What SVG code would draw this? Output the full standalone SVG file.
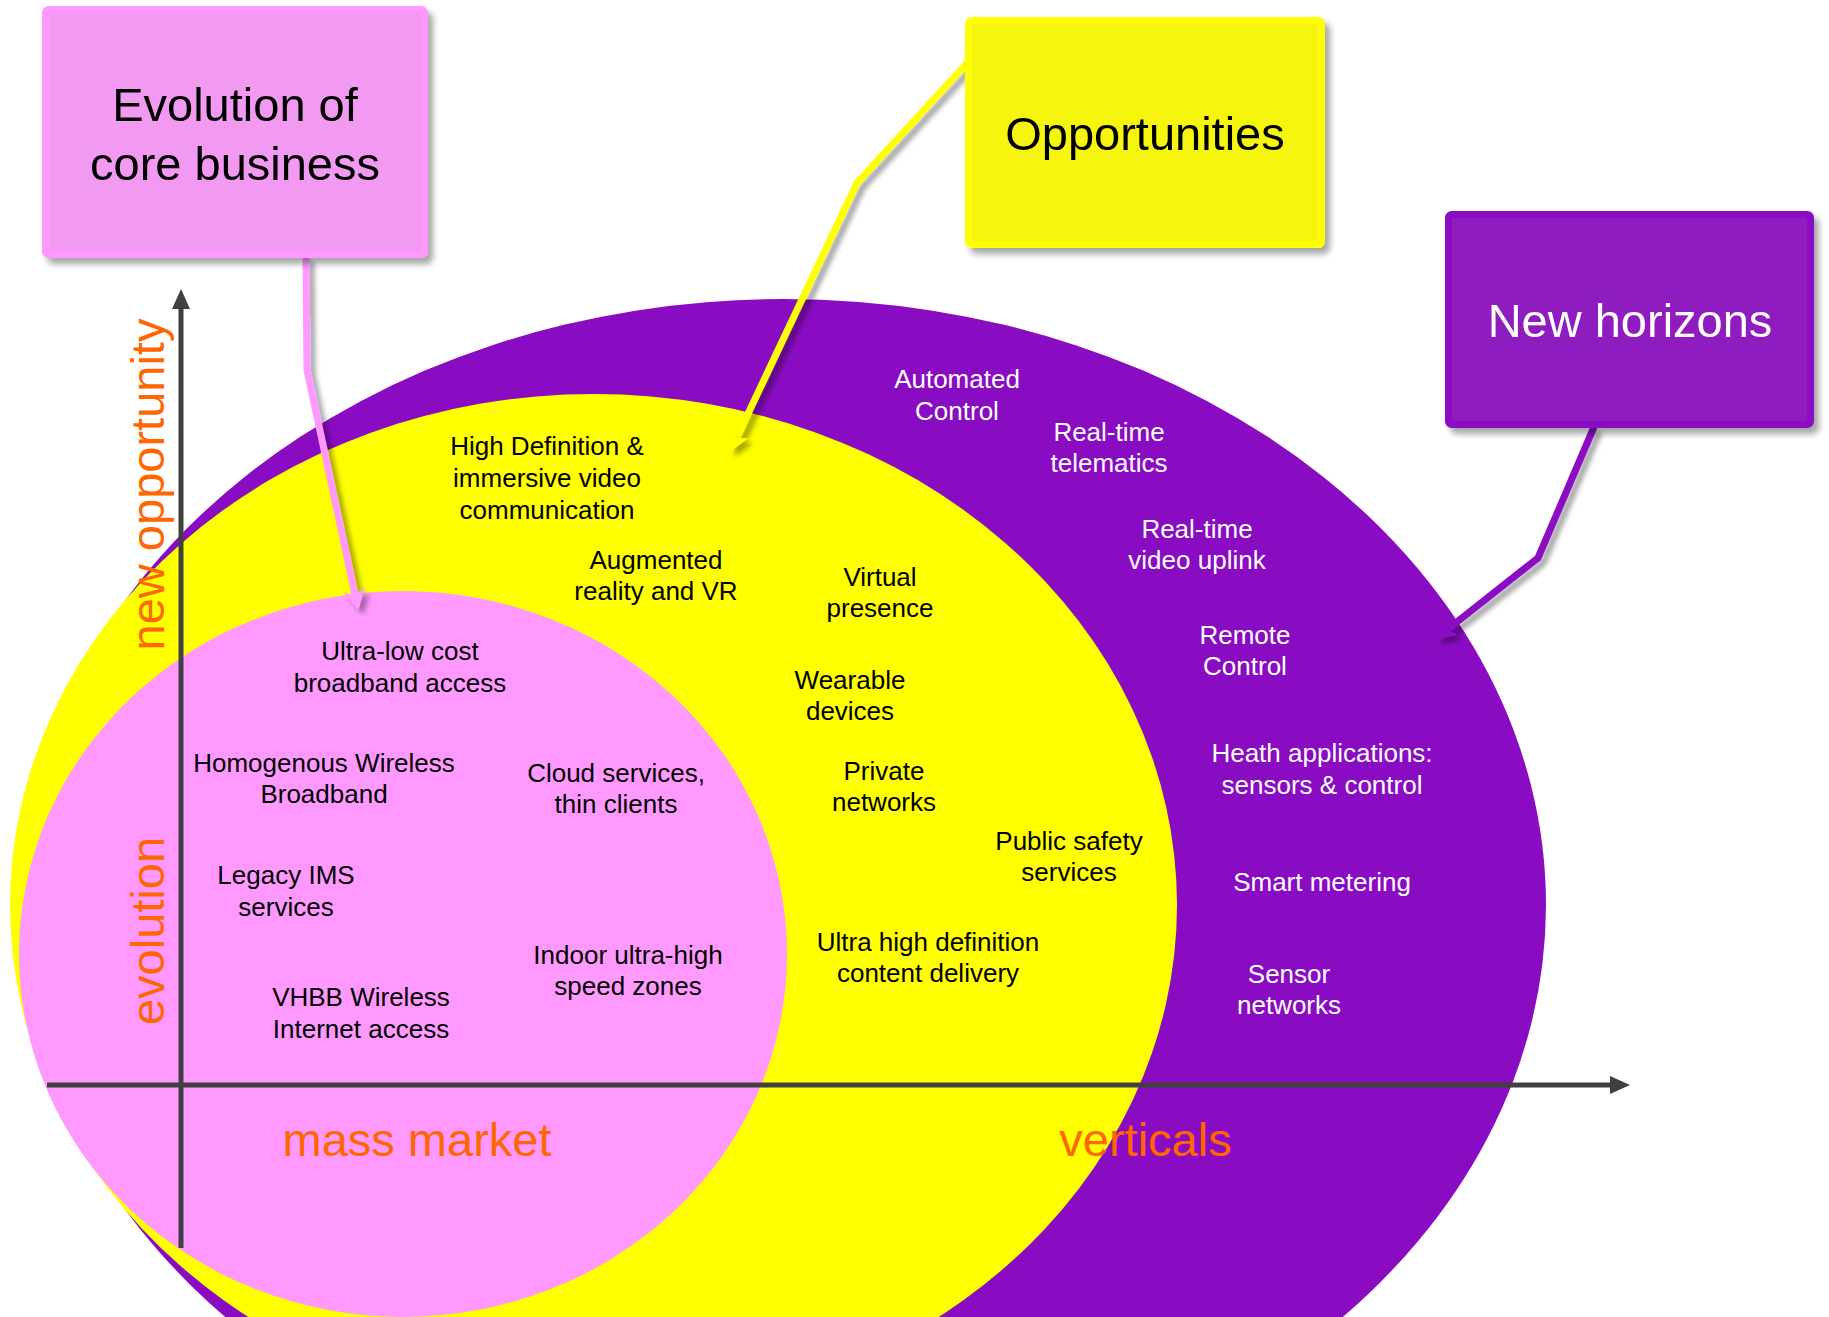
<svg xmlns="http://www.w3.org/2000/svg" width="1829" height="1317" viewBox="0 0 1829 1317">
<style>
.t{font-family:"Liberation Sans",Arial,sans-serif;font-size:26px;text-anchor:middle}
.k{fill:#000}
.w{fill:#fff}
.big{font-family:"Liberation Sans",Arial,sans-serif;font-size:47px;text-anchor:middle}
.or{fill:#FF6600}
.axis{stroke:#404040;stroke-width:5;fill:none}
.conn{fill:none;stroke-width:7;stroke-linejoin:miter}
.box{stroke-width:7}
</style>
<defs>
<filter id="sh" x="-10%" y="-10%" width="130%" height="130%">
<feDropShadow dx="5" dy="6" stdDeviation="3" flood-color="#000" flood-opacity="0.35"/>
</filter>
<filter id="shl" x="-20%" y="-20%" width="150%" height="150%">
<feDropShadow dx="5" dy="5" stdDeviation="2.5" flood-color="#000" flood-opacity="0.35"/>
</filter>
<marker id="axArrow" markerUnits="userSpaceOnUse" markerWidth="22" markerHeight="22" refX="2" refY="9" orient="auto" viewBox="0 0 22 18">
<path d="M0,0 L20,9 L0,18 z" fill="#404040"/>
</marker>
<marker id="aPink" markerUnits="userSpaceOnUse" markerWidth="24" markerHeight="24" refX="4" refY="11" orient="auto" viewBox="0 0 24 22">
<path d="M0,0 L20,11 L0,22 L5,11 z" fill="#FF99FF"/>
</marker>
<marker id="aYel" markerUnits="userSpaceOnUse" markerWidth="24" markerHeight="24" refX="4" refY="11" orient="auto" viewBox="0 0 24 22">
<path d="M0,0 L20,11 L0,22 L5,11 z" fill="#FFFF00"/>
</marker>
<marker id="aPur" markerUnits="userSpaceOnUse" markerWidth="24" markerHeight="24" refX="4" refY="11" orient="auto" viewBox="0 0 24 22">
<path d="M0,0 L20,11 L0,22 L5,11 z" fill="#8A0CC4"/>
</marker>
</defs>

<g id="regions">
<ellipse id="new-horizons-region" cx="784" cy="905" rx="762" ry="606" fill="#8A0CC2"/>
<ellipse id="opportunities-region" cx="593.5" cy="905" rx="583.5" ry="511" fill="#FFFF00"/>
<ellipse id="core-region" cx="403" cy="954" rx="384" ry="363" fill="#FF99FF"/>
</g>

<g id="axes">
<line class="axis" x1="181" y1="1248" x2="181" y2="307" marker-end="url(#axArrow)"/>
<line class="axis" x1="47" y1="1085" x2="1612" y2="1085" marker-end="url(#axArrow)"/>
<text class="big or" transform="translate(164,484.5) rotate(-90)">new opportunity</text>
<text class="big or" transform="translate(164,931) rotate(-90)">evolution</text>
<text class="big or" x="417" y="1156">mass market</text>
<text class="big or" x="1145.5" y="1156">verticals</text>
</g>

<g id="core-items">
<text class="t k" x="400" y="660">Ultra-low cost</text>
<text class="t k" x="400" y="692">broadband access</text>
<text class="t k" x="324" y="772">Homogenous Wireless</text>
<text class="t k" x="324" y="803">Broadband</text>
<text class="t k" x="616" y="782">Cloud services,</text>
<text class="t k" x="616" y="813">thin clients</text>
<text class="t k" x="286" y="884">Legacy IMS</text>
<text class="t k" x="286" y="916">services</text>
<text class="t k" x="628" y="964">Indoor ultra-high</text>
<text class="t k" x="628" y="995">speed zones</text>
<text class="t k" x="361" y="1006">VHBB Wireless</text>
<text class="t k" x="361" y="1038">Internet access</text>
</g>

<g id="opportunity-items">
<text class="t k" x="547" y="455">High Definition &amp;</text>
<text class="t k" x="547" y="487">immersive video</text>
<text class="t k" x="547" y="519">communication</text>
<text class="t k" x="656" y="569">Augmented</text>
<text class="t k" x="656" y="600">reality and VR</text>
<text class="t k" x="880" y="586">Virtual</text>
<text class="t k" x="880" y="617">presence</text>
<text class="t k" x="850" y="689">Wearable</text>
<text class="t k" x="850" y="720">devices</text>
<text class="t k" x="884" y="780">Private</text>
<text class="t k" x="884" y="811">networks</text>
<text class="t k" x="1069" y="850">Public safety</text>
<text class="t k" x="1069" y="881">services</text>
<text class="t k" x="928" y="951">Ultra high definition</text>
<text class="t k" x="928" y="982">content delivery</text>
</g>

<g id="horizon-items">
<text class="t w" x="957" y="388">Automated</text>
<text class="t w" x="957" y="420">Control</text>
<text class="t w" x="1109" y="441">Real-time</text>
<text class="t w" x="1109" y="472">telematics</text>
<text class="t w" x="1197" y="538">Real-time</text>
<text class="t w" x="1197" y="569">video uplink</text>
<text class="t w" x="1245" y="644">Remote</text>
<text class="t w" x="1245" y="675">Control</text>
<text class="t w" x="1322" y="762">Heath applications:</text>
<text class="t w" x="1322" y="794">sensors &amp; control</text>
<text class="t w" x="1322" y="891">Smart metering</text>
<text class="t w" x="1289" y="983">Sensor</text>
<text class="t w" x="1289" y="1014">networks</text>
</g>

<g id="connectors" filter="url(#shl)">
<polyline class="conn" stroke="#FF99FF" points="306,257 307,370 355,594" marker-end="url(#aPink)"/>
<polyline class="conn" stroke="#FFFF00" points="968,62 857,183 737,437" marker-end="url(#aYel)"/>
<polyline class="conn" stroke="#8A0CC4" points="1594,427 1538,558 1448,629" marker-end="url(#aPur)"/>
</g>

<g id="box-core" filter="url(#sh)">
<rect class="box" x="45.5" y="9.5" width="379" height="245" rx="3" fill="#F29AF2" stroke="#FF99FF"/>
<text class="big k" x="235" y="121">Evolution of</text>
<text class="big k" x="235" y="180">core business</text>
</g>

<g id="box-opportunities" filter="url(#sh)">
<rect class="box" x="968.5" y="20.5" width="353" height="224" rx="3" fill="#F5F511" stroke="#FFFF00"/>
<text class="big k" x="1145" y="150">Opportunities</text>
</g>

<g id="box-horizons" filter="url(#sh)">
<rect class="box" x="1448.5" y="214.5" width="362" height="210" rx="3" fill="#8E1BBF" stroke="#8A0CC4"/>
<text class="big w" x="1630" y="337">New horizons</text>
</g>
</svg>
